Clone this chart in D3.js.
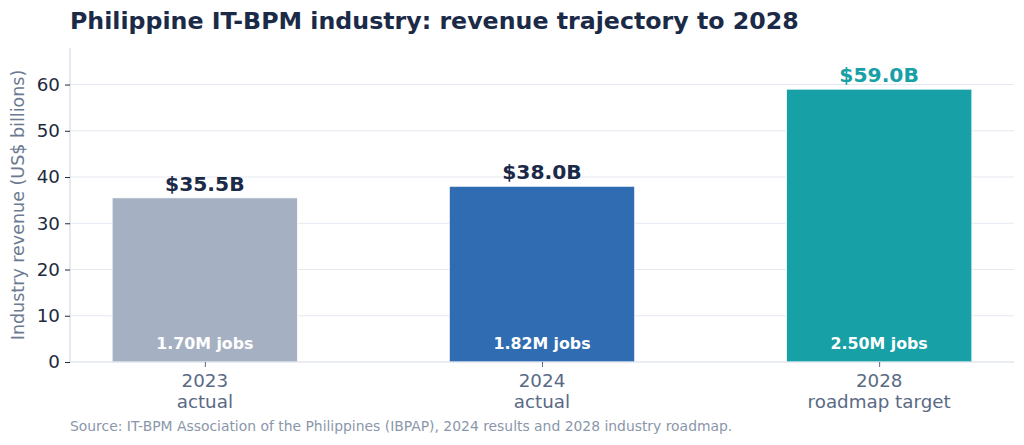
<!DOCTYPE html>
<html>
<head>
<meta charset="utf-8">
<script src="https://cdn.jsdelivr.net/npm/d3@7.9.0/dist/d3.min.js"></script>
<style>
  body { margin: 0; background: #fff; }
  svg { font-family: 'DejaVu Sans', sans-serif; display: block; }
</style>
</head>
<body>
<svg id="chart" width="1024" height="445"></svg>
<script>
// chart data
const years = ['2023', '2024', '2028'];
const subLabels = ['actual', 'actual', 'roadmap target'];
const revenue = [35.5, 38.0, 59.0];
const jobs = ['1.70M jobs', '1.82M jobs', '2.50M jobs'];
const barColors = ['#a5b1c2', '#2f6cb1', '#17a0a6'];
const valueColors = ['#1b2a47', '#1b2a47', '#17a0a6'];
const yTicks = [0, 10, 20, 30, 40, 50, 60];

const svg = d3.select('#chart');
const margin = { left: 70, right: 10, top: 48, bottom: 83 };
const W = 1024, H = 445;

const x = d3.scaleLinear()
  .domain([-0.4, 2.4])
  .range([margin.left, W - margin.right]);

const y = d3.scaleLinear()
  .domain([0, 67.9])
  .range([H - margin.bottom, margin.top]);

const barW = x(0.55) - x(0);

// title
svg.append('text')
  .attr('x', 70).attr('y', 29)
  .attr('font-size', 23.7).attr('font-weight', 'bold')
  .attr('fill', '#1b2a47')
  .text('Philippine IT-BPM industry: revenue trajectory to 2028');

// gridlines
svg.append('g')
  .selectAll('line')
  .data(yTicks.slice(1))
  .join('line')
  .attr('x1', x(-0.4)).attr('x2', x(2.4))
  .attr('y1', d => y(d)).attr('y2', d => y(d))
  .attr('stroke', '#e4e9f1').attr('stroke-width', 1);

// bars
svg.append('g')
  .selectAll('rect')
  .data(revenue)
  .join('rect')
  .attr('x', (d, i) => x(i) - barW / 2)
  .attr('width', barW)
  .attr('y', d => y(d))
  .attr('height', d => y(0) - y(d))
  .attr('fill', (d, i) => barColors[i])
  .attr('stroke', '#ffffff').attr('stroke-width', 0.8);

// value labels
svg.append('g')
  .selectAll('text')
  .data(revenue)
  .join('text')
  .attr('x', (d, i) => x(i))
  .attr('y', d => y(d) - 7)
  .attr('text-anchor', 'middle')
  .attr('font-size', 20.3).attr('font-weight', 'bold')
  .attr('fill', (d, i) => valueColors[i])
  .text(d => `$${d.toFixed(1)}B`);

// jobs labels inside bars
svg.append('g')
  .selectAll('text')
  .data(jobs)
  .join('text')
  .attr('x', (d, i) => x(i))
  .attr('y', y(0) - 13)
  .attr('text-anchor', 'middle')
  .attr('font-size', 15.8).attr('font-weight', 'bold')
  .attr('fill', '#ffffff')
  .text(d => d);

// y axis
const yAxis = svg.append('g')
  .attr('transform', `translate(${margin.left},0)`)
  .call(d3.axisLeft(y).tickValues(yTicks).tickSize(5).tickPadding(5));
yAxis.select('.domain').attr('stroke', '#d3dbe7').attr('stroke-width', 1.2)
  .attr('d', `M0,${y(0)}V${margin.top}`);
yAxis.selectAll('.tick line').attr('stroke', '#1e2a3d');
yAxis.selectAll('.tick text')
  .attr('font-size', 18.3).attr('fill', '#1e2a3d')
  .attr('font-family', 'DejaVu Sans, sans-serif');

// x axis
const xAxis = svg.append('g')
  .attr('transform', `translate(0,${y(0)})`)
  .call(d3.axisBottom(x).tickValues([0, 1, 2]).tickSize(5).tickFormat(''));
xAxis.select('.domain').attr('stroke', '#d3dbe7').attr('stroke-width', 1.2)
  .attr('d', `M${x(-0.4)},0H${x(2.4)}`);
xAxis.selectAll('.tick line').attr('stroke', '#5a6a85');

const xLabels = svg.append('g')
  .selectAll('text')
  .data(years)
  .join('text')
  .attr('x', (d, i) => x(i))
  .attr('y', y(0) + 25)
  .attr('text-anchor', 'middle')
  .attr('font-size', 18.3).attr('fill', '#5a6a85');
xLabels.append('tspan').text(d => d);
xLabels.append('tspan')
  .attr('x', (d, i) => x(i)).attr('dy', 21)
  .text((d, i) => subLabels[i]);

// y axis label
svg.append('text')
  .attr('transform', `translate(24,${(y(0) + margin.top) / 2}) rotate(-90)`)
  .attr('text-anchor', 'middle')
  .attr('font-size', 17.5).attr('fill', '#6b7a90')
  .text('Industry revenue (US$ billions)');

// source note
svg.append('text')
  .attr('x', 70).attr('y', 431)
  .attr('font-size', 13.9).attr('fill', '#8a97aa')
  .text('Source: IT-BPM Association of the Philippines (IBPAP), 2024 results and 2028 industry roadmap.');
</script>
</body>
</html>
